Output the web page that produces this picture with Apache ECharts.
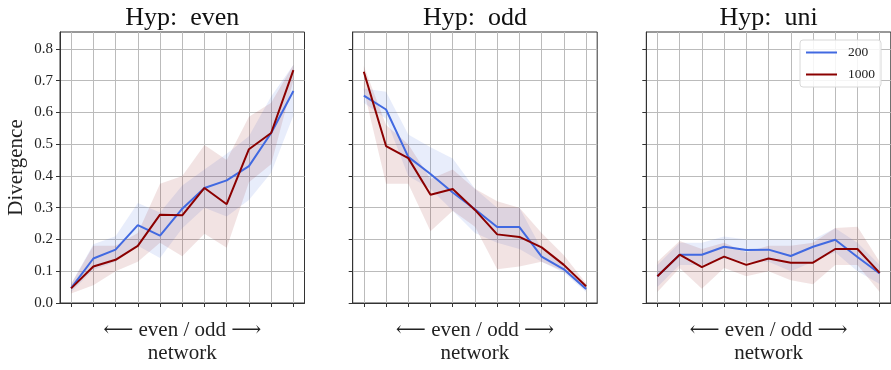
<!DOCTYPE html>
<html><head><meta charset="utf-8">
<script src="https://cdn.jsdelivr.net/npm/echarts@6/dist/echarts.min.js"></script>
<style>html,body{margin:0;padding:0;background:#fff}#c{width:891px;height:370px}</style>
</head><body><div id="c"></div>
<script>
const categories = ['0','1','2','3','4','5','6','7','8','9','10'];
const yTicks = [0, 0.1, 0.2, 0.3, 0.4, 0.5, 0.6, 0.7, 0.8];
const panelTitles = ['Hyp:  even', 'Hyp:  odd', 'Hyp:  uni'];
const seriesNames = ['200', '1000'];
const yName = 'Divergence';
const xName = '\u27F5 even / odd \u27F6\nnetwork';

// Hyp: even
const even200   = [0.047, 0.140, 0.168, 0.245, 0.212, 0.297, 0.362, 0.386, 0.431, 0.535, 0.667];
const even200Lo = [0.035, 0.105, 0.130, 0.180, 0.142, 0.235, 0.300, 0.272, 0.324, 0.410, 0.590];
const even200Hi = [0.060, 0.185, 0.210, 0.315, 0.285, 0.370, 0.420, 0.470, 0.525, 0.650, 0.750];
const even1000   = [0.046, 0.115, 0.136, 0.180, 0.278, 0.276, 0.362, 0.311, 0.484, 0.535, 0.733];
const even1000Lo = [0.030, 0.056, 0.100, 0.130, 0.190, 0.147, 0.218, 0.174, 0.380, 0.437, 0.700];
const even1000Hi = [0.060, 0.180, 0.180, 0.220, 0.375, 0.400, 0.497, 0.450, 0.586, 0.630, 0.750];
// Hyp: odd
const odd200   = [0.653, 0.609, 0.460, 0.406, 0.348, 0.295, 0.239, 0.239, 0.146, 0.106, 0.044];
const odd200Lo = [0.630, 0.580, 0.400, 0.360, 0.290, 0.220, 0.190, 0.170, 0.130, 0.095, 0.035];
const odd200Hi = [0.675, 0.665, 0.530, 0.490, 0.455, 0.360, 0.300, 0.300, 0.170, 0.120, 0.052];
const odd1000   = [0.728, 0.494, 0.456, 0.341, 0.359, 0.293, 0.216, 0.208, 0.175, 0.120, 0.053];
const odd1000Lo = [0.670, 0.375, 0.375, 0.226, 0.290, 0.240, 0.106, 0.115, 0.130, 0.100, 0.040];
const odd1000Hi = [0.746, 0.560, 0.500, 0.390, 0.420, 0.360, 0.320, 0.300, 0.220, 0.150, 0.062];
// Hyp: uni
const uni200   = [0.084, 0.152, 0.152, 0.177, 0.167, 0.168, 0.148, 0.177, 0.199, 0.145, 0.093];
const uni200Lo = [0.050, 0.120, 0.120, 0.140, 0.130, 0.130, 0.100, 0.130, 0.160, 0.100, 0.060];
const uni200Hi = [0.120, 0.190, 0.190, 0.209, 0.200, 0.200, 0.200, 0.200, 0.235, 0.190, 0.120];
const uni1000   = [0.084, 0.152, 0.113, 0.146, 0.120, 0.140, 0.127, 0.127, 0.170, 0.170, 0.095];
const uni1000Lo = [0.035, 0.110, 0.045, 0.110, 0.084, 0.100, 0.072, 0.059, 0.120, 0.120, 0.035];
const uni1000Hi = [0.130, 0.195, 0.170, 0.190, 0.160, 0.180, 0.180, 0.190, 0.236, 0.240, 0.130];

const panels = [
  [[even200, even200Lo, even200Hi], [even1000, even1000Lo, even1000Hi]],
  [[odd200, odd200Lo, odd200Hi], [odd1000, odd1000Lo, odd1000Hi]],
  [[uni200, uni200Lo, uni200Hi], [uni1000, uni1000Lo, uni1000Hi]]
];

const lineColors = ['#4169e1', '#8b0000'];
const bandColors = ['rgba(65,105,225,0.12)', 'rgba(139,0,0,0.11)'];
const gridLefts = [60, 352.7, 646.3];
const gridTop = 32, gridW = 244.5, gridH = 276.3;
const serif = 'Liberation Serif, DejaVu Serif, serif';
const borderC = '#333';
const gridC = '#bbbbbb';

const grids = [], xAxes = [], yAxes = [], series = [], graphics = [];
gridLefts.forEach((l, i) => {
  grids.push({left: l, top: gridTop, width: gridW, height: gridH, show: true,
    borderColor: borderC, borderWidth: 1, backgroundColor: 'transparent', containLabel: false});
  xAxes.push({gridIndex: i, type: 'category', data: categories, boundaryGap: true,
    axisLine: {show: true, lineStyle: {color: borderC, width: 1}},
    axisTick: {show: true, alignWithLabel: true, interval: 0, length: 4, lineStyle: {color: borderC}},
    axisLabel: {show: false, interval: 0},
    splitLine: {show: true, alignWithLabel: true, interval: 0, lineStyle: {color: gridC, width: 1}},
    name: xName, nameLocation: 'middle', nameGap: 16,
    nameTextStyle: {fontFamily: serif, fontSize: 21, lineHeight: 23, color: '#222'}
  });
  yAxes.push({gridIndex: i, type: 'value', min: 0, max: 0.853, interval: 0.1,
    axisLine: {show: true, lineStyle: {color: borderC, width: 1}},
    axisTick: {show: true, length: 4, customValues: yTicks, lineStyle: {color: borderC}},
    axisLabel: {show: i === 0, customValues: yTicks, margin: 7, formatter: v => v.toFixed(1),
      fontFamily: serif, fontSize: 15, color: '#222'},
    splitLine: {show: true, lineStyle: {color: gridC, width: 1}},
    name: i === 0 ? yName : '', nameLocation: 'middle', nameGap: 33,
    nameTextStyle: {fontFamily: serif, fontSize: 21, color: '#222'}
  });
  graphics.push({type: 'text', x: l + gridW / 2, y: 18,
    style: {text: panelTitles[i], align: 'center', verticalAlign: 'middle',
      font: '26px ' + serif, fill: '#111'}});
  panels[i].forEach((trip, s) => {
    const [vals, lo, hi] = trip;
    const stack = 'band' + i + '_' + s;
    series.push({type: 'line', xAxisIndex: i, yAxisIndex: i, data: lo, stack: stack,
      symbol: 'none', silent: true, lineStyle: {opacity: 0}, z: 1 + s});
    series.push({type: 'line', xAxisIndex: i, yAxisIndex: i, data: hi.map((h, k) => h - lo[k]), stack: stack,
      symbol: 'none', silent: true, lineStyle: {opacity: 0}, areaStyle: {color: bandColors[s], opacity: 1}, z: 1 + s});
  });
  panels[i].forEach((trip, s) => {
    series.push({type: 'line', name: seriesNames[s], xAxisIndex: i, yAxisIndex: i, data: trip[0],
      symbol: 'none', color: lineColors[s], itemStyle: {color: lineColors[s]},
      lineStyle: {color: lineColors[s], width: 2}, z: 5 + s});
  });
});

const chart = echarts.init(document.getElementById('c'), null, {renderer: 'canvas'});
chart.setOption({
  animation: false,
  backgroundColor: '#fff',
  grid: grids, xAxis: xAxes, yAxis: yAxes, series: series,
  graphic: graphics,
  legend: {data: seriesNames, orient: 'vertical', left: 800, top: 40,
    icon: 'rect', itemWidth: 31, itemHeight: 2, itemGap: 7,
    backgroundColor: 'rgba(255,255,255,0.85)', borderColor: '#d8d8d8', borderWidth: 1, borderRadius: 3,
    padding: [5, 6, 5, 6],
    textStyle: {fontFamily: serif, fontSize: 13.5, color: '#222', lineHeight: 15, padding: [0, 0, 0, 6]}}
});
</script></body></html>
